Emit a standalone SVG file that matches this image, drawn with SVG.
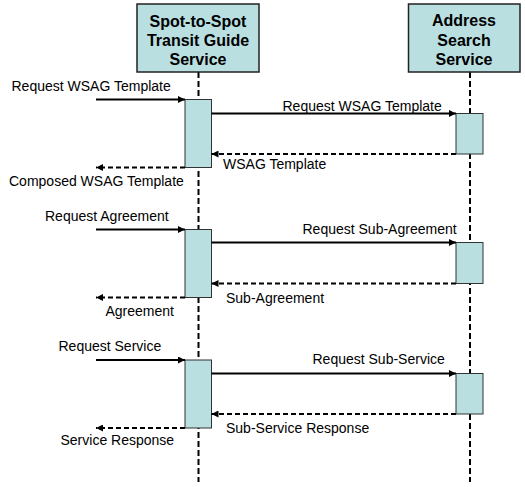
<svg xmlns="http://www.w3.org/2000/svg" width="525" height="487" viewBox="0 0 525 487">
<defs>
<style>
.hdr{fill:#B9DFE1;stroke:#222;stroke-width:1.5}
.act{fill:#B9DFE1;stroke:#333;stroke-width:1}
.ht{font-family:"Liberation Sans",Arial,sans-serif;font-size:16px;font-weight:bold;fill:#000;text-anchor:middle}
.lbl{font-family:"Liberation Sans",Arial,sans-serif;font-size:14px;fill:#000}
.life{stroke:#000;stroke-width:2;stroke-dasharray:6,3;fill:none}
.msg{stroke:#000;stroke-width:2;fill:none}
.ret{stroke:#000;stroke-width:2;stroke-dasharray:5,3;fill:none}
</style>
<marker id="ah" viewBox="0 0 10 10" refX="10" refY="5" markerWidth="9" markerHeight="7" markerUnits="userSpaceOnUse" orient="auto">
<path d="M0,0 L10,5 L0,10 Z" fill="#000"/>
</marker>
</defs>
<rect width="525" height="487" fill="#fff"/>
<g id="lifelines">
<line class="life" x1="198.5" y1="72" x2="198.5" y2="482"/>
<line class="life" x1="470" y1="72" x2="470" y2="482"/>
</g>
<g id="node-spot">
<rect class="hdr" x="137" y="4" width="122" height="68"/>
<text class="ht" x="198" y="27">Spot-to-Spot</text>
<text class="ht" x="198" y="46">Transit Guide</text>
<text class="ht" x="198" y="65">Service</text>
</g>
<g id="node-address">
<rect class="hdr" x="408.5" y="4" width="111.5" height="68"/>
<text class="ht" x="464" y="26">Address</text>
<text class="ht" x="464" y="46">Search</text>
<text class="ht" x="464" y="65">Service</text>
</g>
<g id="activations">
<rect class="act" x="185" y="99.5" width="26.5" height="68"/>
<rect class="act" x="456" y="113.5" width="27" height="40.5"/>
<rect class="act" x="185" y="229.5" width="26.5" height="68"/>
<rect class="act" x="456" y="242.5" width="27" height="41"/>
<rect class="act" x="185" y="360" width="26.5" height="68"/>
<rect class="act" x="456" y="373.5" width="27" height="40.5"/>
</g>
<g id="connectors">
<line class="msg" x1="96" y1="99.5" x2="185" y2="99.5" marker-end="url(#ah)"/>
<line class="msg" x1="211.5" y1="113.5" x2="456" y2="113.5" marker-end="url(#ah)"/>
<line class="ret" x1="456" y1="154" x2="211.5" y2="154" marker-end="url(#ah)"/>
<line class="ret" x1="185" y1="167.5" x2="96" y2="167.5" marker-end="url(#ah)"/>
<line class="msg" x1="96" y1="229.5" x2="185" y2="229.5" marker-end="url(#ah)"/>
<line class="msg" x1="211.5" y1="242.5" x2="456" y2="242.5" marker-end="url(#ah)"/>
<line class="ret" x1="456" y1="283.5" x2="211.5" y2="283.5" marker-end="url(#ah)"/>
<line class="ret" x1="185" y1="297.5" x2="96" y2="297.5" marker-end="url(#ah)"/>
<line class="msg" x1="96" y1="360" x2="185" y2="360" marker-end="url(#ah)"/>
<line class="msg" x1="211.5" y1="373.5" x2="456" y2="373.5" marker-end="url(#ah)"/>
<line class="ret" x1="456" y1="414" x2="211.5" y2="414" marker-end="url(#ah)"/>
<line class="ret" x1="185" y1="428" x2="96" y2="428" marker-end="url(#ah)"/>
</g>
<g id="labels">
<text class="lbl" x="11.5" y="91">Request WSAG Template</text>
<text class="lbl" x="282.5" y="111">Request WSAG Template</text>
<text class="lbl" x="223" y="169">WSAG Template</text>
<text class="lbl" x="9" y="185.5">Composed WSAG Template</text>
<text class="lbl" x="45" y="221">Request Agreement</text>
<text class="lbl" x="302.5" y="234">Request Sub-Agreement</text>
<text class="lbl" x="226" y="302.5">Sub-Agreement</text>
<text class="lbl" x="105.5" y="316">Agreement</text>
<text class="lbl" x="58.5" y="351">Request Service</text>
<text class="lbl" x="312.5" y="364">Request Sub-Service</text>
<text class="lbl" x="226" y="433">Sub-Service Response</text>
<text class="lbl" x="60.5" y="445">Service Response</text>
</g>
</svg>
